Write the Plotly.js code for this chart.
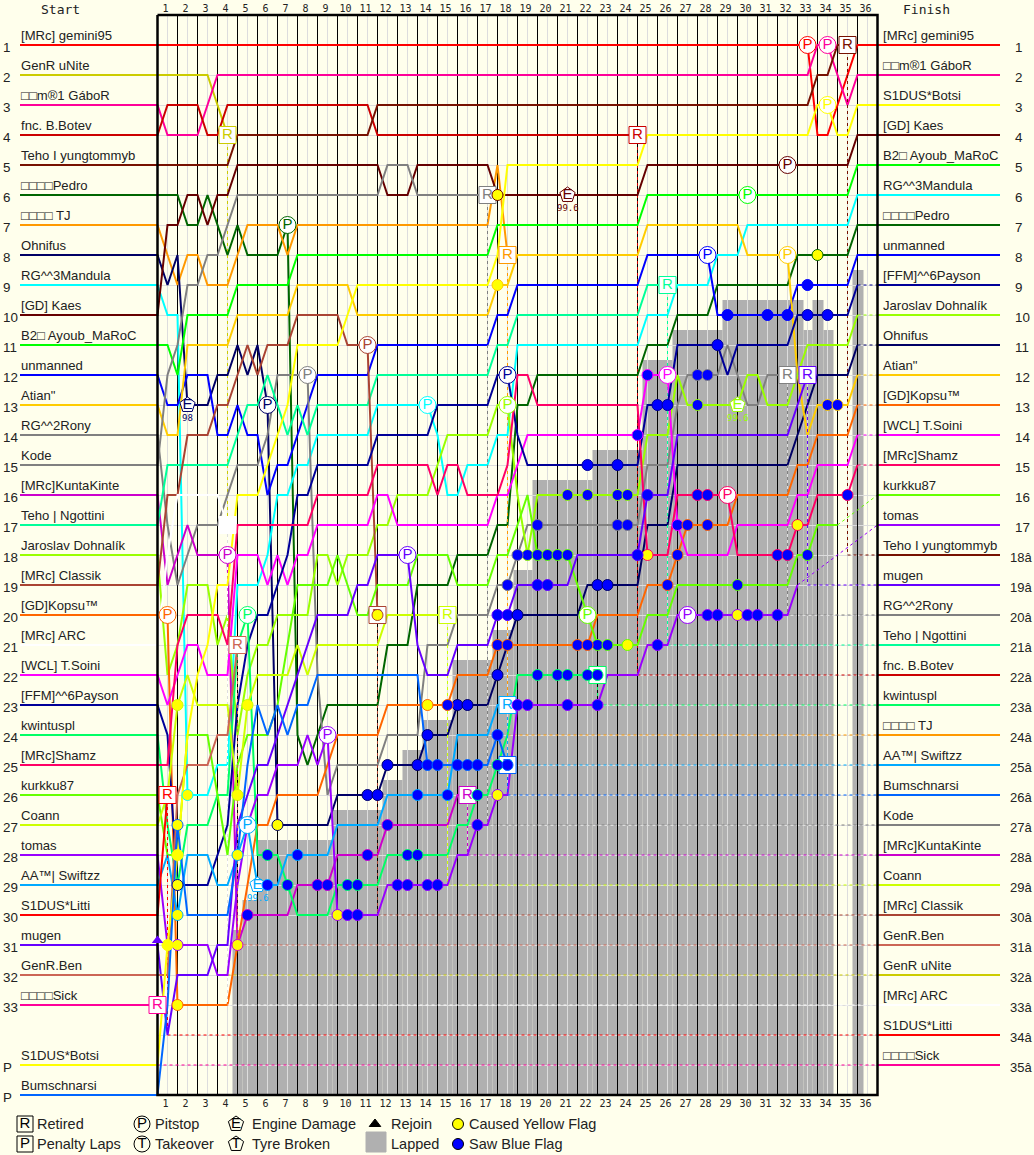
<!DOCTYPE html>
<html><head><meta charset="utf-8">
<script src="https://cdn.plot.ly/plotly-3.0.1.min.js"></script>
<style>html,body{margin:0;padding:0;background:#ffffec;overflow:hidden}</style>
</head><body><div id="chart" style="width:1034px;height:1155px"></div>
<script>
// h = half-lap index (lap = h/2), each pair is [h, position]; straight runs between listed pairs.
const drivers = ["gemini","uNite","GaboR","Botev","yung","Pedro","TJ","Ohnifus","Mandula","Kaes","Ayoub","unmanned","Atian","Rony","Kode","Kunta","Ngottini","Dohnalik","Classik","Kopsu","ARC","Soini","Payson","kwintuspl","Shamz","kurkku","Coann","tomas","Swiftzz","Litti","mugen","Ben","Sick","Botsi","Bum"];
const names = ["[MRc] gemini95","GenR uNite","□□m®1 GáboR","fnc. B.Botev","Teho I yungtommyb","□□□□Pedro","□□□□ TJ","Ohnifus","RG^^3Mandula","[GD] Kaes","B2□ Ayoub_MaRoC","unmanned","Atian\"","RG^^2Rony","Kode","[MRc]KuntaKinte","Teho | Ngottini","Jaroslav Dohnalík","[MRc] Classik","[GD]Kopsu™","[MRc] ARC","[WCL] T.Soini","[FFM]^^6Payson","kwintuspl","[MRc]Shamz","kurkku87","Coann","tomas","AA™| Swiftzz","S1DUS*Litti","mugen","GenR.Ben","□□□□Sick","S1DUS*Botsi","Bumschnarsi"];
const colors = ["#ff0000","#cccc00","#ff0099","#cc0000","#771100","#006600","#ff9900","#000066","#00ffff","#660000","#00ff00","#0000ff","#ffcc00","#808080","#808080","#cc00cc","#00ff99","#99ff00","#aa4433","#ff6600","#ffffff","#ff00ff","#000099","#00ff66","#ff0066","#66ff00","#ccff00","#9900ff","#00aaff","#ff0000","#6600ff","#cc6655","#ff0099","#ffff00","#0066ff"];
const startRows = [1,2,3,4,5,6,7,8,9,10,11,12,13,14,15,16,17,18,19,20,21,22,23,24,25,26,27,28,29,30,31,32,33,35,36];
const finishRows = [1,32,2,22,18,7,24,11,6,4,5,8,12,20,27,28,21,10,30,13,33,14,9,23,15,16,29,17,25,34,19,31,35,3,26];
const retired = ["uNite","Botev","yung","TJ","Kode","Rony","mugen","Ngottini","Kunta","Swiftzz","Bum","kwintuspl","Classik","Coann","Ben","ARC","Litti","Sick"];

const gemini = [[0,1],[65,1],[66,4],[67,4],[68,3],[69,2],[70,1]];
const uNite = [[0,2],[5,2],[6,3],[7,4]];
const GaboR = [[0,3],[1,4],[4,4],[5,3],[6,2],[65,2],[66,1],[67,1],[68,2],[69,3],[70,2]];
const Botev = [[0,4],[1,3],[4,3],[5,4],[6,4],[7,3],[21,3],[22,4],[48,4]];
const yung = [[0,5],[7,5],[8,4],[21,4],[22,3],[65,3],[66,2],[67,2],[68,1],[69,1]];
const Pedro = [[0,6],[2,6],[3,7],[4,7],[5,6],[6,7],[7,8],[8,7],[9,8],[12,8],[13,7],[14,24],[15,25],[16,24],[17,23],[22,23],[23,21],[25,21],[26,19],[29,19],[30,18],[33,18],[34,17],[35,17],[36,13],[37,13],[38,12],[48,12],[49,11],[51,11],[52,10],[55,10],[56,9],[63,9],[64,8],[69,8],[70,7]];
const TJ = [[0,7],[1,8],[2,9],[3,8],[4,8],[5,9],[7,9],[8,8],[9,7],[12,7],[13,8],[14,7],[33,7],[34,5],[35,8]];
const Ohnifus = [[0,8],[1,9],[2,8],[3,13],[5,13],[6,12],[7,12],[8,11],[9,12],[10,11],[11,13],[12,27],[17,27],[18,26],[22,26],[23,25],[26,25],[27,24],[29,24],[30,23],[33,23],[34,22],[35,21],[36,20],[42,20],[43,19],[48,19],[49,17],[51,17],[52,15],[63,15],[64,14],[65,13],[66,12],[69,12],[70,11]];
const Mandula = [[0,9],[1,10],[2,10],[3,26],[5,26],[6,25],[7,25],[8,19],[10,19],[11,18],[12,16],[13,16],[14,15],[15,15],[16,14],[21,14],[22,13],[27,13],[28,14],[29,16],[30,16],[31,15],[33,15],[34,14],[35,14],[36,11],[48,11],[49,10],[51,10],[52,9],[55,9],[56,8],[58,8],[59,7],[69,7],[70,6]];
const Kaes = [[0,10],[1,7],[2,7],[3,6],[4,6],[5,7],[6,6],[7,6],[8,5],[22,5],[23,6],[25,6],[26,5],[33,5],[34,6],[48,6],[49,5],[69,5],[70,4]];
const Ayoub = [[0,11],[1,11],[2,12],[3,10],[7,10],[8,9],[13,9],[14,8],[33,8],[34,7],[48,7],[49,6],[69,6],[70,5]];
const unmanned = [[0,12],[1,13],[2,13],[3,12],[5,12],[6,14],[7,14],[8,13],[9,14],[10,14],[11,16],[12,15],[13,15],[14,14],[15,13],[16,12],[21,12],[22,11],[33,11],[34,10],[35,10],[36,9],[48,9],[49,8],[55,8],[56,10],[63,10],[64,9],[69,9],[70,8]];
const Atian = [[0,13],[1,14],[2,14],[3,11],[7,11],[8,10],[13,10],[14,9],[19,9],[20,10],[33,10],[34,9],[35,9],[36,8],[48,8],[49,7],[58,7],[59,8],[63,8],[64,12],[65,14],[66,13],[69,13],[70,12]];
const Rony = [[0,14],[1,17],[2,19],[3,18],[4,17],[6,17],[7,16],[8,15],[10,15],[11,14],[12,12],[15,12],[16,22],[17,26],[18,25],[22,25],[23,24],[26,24],[27,21],[29,21],[30,20],[33,20],[34,19],[35,19],[36,18],[37,17],[48,17],[49,15],[51,15],[52,13],[53,12],[56,12],[57,11],[58,12],[59,13],[60,13],[61,12],[63,12]];
const Kode = [[0,15],[1,12],[2,11],[3,9],[4,9],[5,8],[6,8],[7,7],[8,6],[22,6],[23,5],[25,5],[26,6],[33,6]];
const Kunta = [[0,16],[1,19],[2,18],[3,17],[4,18],[6,18],[7,18],[8,31],[9,30],[13,30],[14,29],[17,29],[18,28],[22,28],[23,27],[29,27],[30,26],[31,26]];
const Ngottini = [[0,17],[1,15],[7,15],[8,14],[9,13],[10,13],[11,12],[12,13],[13,14],[14,13],[15,14],[16,13],[21,13],[22,12],[33,12],[34,11],[35,11],[36,10],[48,10],[49,9],[51,9]];
const Dohnalik = [[0,18],[1,22],[2,21],[3,19],[5,19],[6,21],[7,20],[8,24],[9,22],[10,21],[11,21],[12,20],[15,20],[16,18],[17,18],[18,19],[19,18],[21,18],[22,17],[23,17],[24,16],[27,16],[28,15],[29,14],[33,14],[34,13],[35,13],[36,16],[37,18],[38,16],[48,16],[49,14],[51,14],[52,12],[53,13],[58,13],[59,12],[60,12],[61,13],[63,13],[64,12],[65,11],[69,11],[70,10]];
const Classik = [[0,19],[1,16],[2,16],[3,14],[5,14],[6,13],[7,13],[8,12],[9,11],[10,12],[11,11],[13,11],[14,10],[18,10],[19,11],[21,11],[22,20]];
const Kopsu = [[0,20],[1,20],[2,33],[7,33],[8,31],[9,29],[10,27],[11,27],[12,26],[16,26],[17,25],[18,24],[22,24],[23,23],[29,23],[30,22],[33,22],[34,21],[43,21],[44,20],[48,20],[49,19],[51,19],[52,18],[53,17],[57,17],[58,16],[63,16],[64,15],[65,15],[66,14],[69,14],[70,13]];
const ARC = [[0,21],[1,18],[2,16],[6,16],[7,17]];
const Soini = [[0,22],[1,23],[2,22],[3,21],[4,21],[5,22],[7,22],[8,18],[10,18],[11,19],[12,18],[13,19],[14,18],[15,18],[16,17],[21,17],[22,16],[23,16],[24,17],[33,17],[34,16],[35,16],[36,15],[37,14],[48,14],[49,12],[51,12],[52,17],[53,18],[57,18],[58,17],[63,17],[64,16],[65,16],[66,15],[69,15],[70,14]];
const Payson = [[0,23],[1,24],[2,29],[5,29],[6,28],[7,27],[8,23],[9,21],[10,20],[11,20],[12,19],[13,18],[14,16],[15,16],[16,15],[21,15],[22,14],[27,14],[28,13],[33,13],[34,12],[35,12],[36,14],[37,15],[48,15],[49,13],[51,13],[52,11],[56,11],[57,12],[58,11],[63,11],[64,10],[69,10],[70,9]];
const kwintuspl = [[0,24],[1,27],[2,29],[3,27],[5,27],[6,26],[7,26],[8,21],[9,20],[10,28],[12,28],[13,29],[14,30],[17,30],[18,29],[22,29],[23,28],[29,28],[30,27],[31,27],[32,26],[33,26],[34,25],[35,24],[36,22],[44,22]];
const Shamz = [[0,25],[1,25],[2,21],[3,20],[6,20],[7,21],[8,17],[15,17],[16,16],[21,16],[22,15],[27,15],[28,16],[29,15],[30,15],[31,16],[34,16],[35,15],[36,12],[37,12],[38,13],[48,13],[49,18],[51,18],[52,16],[57,16],[58,18],[63,18],[64,17],[65,17],[66,16],[69,16],[70,15]];
const kurkku = [[0,26],[1,28],[2,28],[3,24],[5,24],[6,26],[7,28],[8,25],[9,24],[11,24],[12,23],[13,21],[14,19],[17,19],[18,18],[19,19],[20,20],[21,20],[22,19],[25,19],[26,18],[29,18],[30,19],[33,19],[34,18],[35,18],[36,17],[37,16],[38,18],[41,18],[42,19],[43,20],[44,21],[48,21],[49,20],[51,20],[52,19],[63,19],[64,18],[65,18],[66,17],[68,17]];
const Coann = [[0,27],[1,26],[2,23],[3,22],[4,23],[7,23],[8,26],[9,23],[10,22],[13,22],[14,21],[15,22],[16,21],[22,21],[23,20],[29,20]];
const tomas = [[0,28],[1,31],[2,31],[5,31],[6,32],[7,32],[8,29],[9,27],[10,26],[11,26],[12,25],[14,25],[15,24],[16,25],[17,24],[18,30],[22,30],[23,29],[29,29],[30,28],[31,28],[32,27],[33,27],[34,26],[35,26],[36,23],[44,23],[45,22],[48,22],[49,21],[51,21],[52,20],[63,20],[64,19]];
const Swiftzz = [[0,29],[1,28],[2,30],[3,28],[5,28],[6,29],[7,29],[8,28],[9,27],[10,29],[12,29],[13,28],[17,28],[18,27],[22,27],[23,26],[29,26],[30,24],[33,24],[34,23],[35,23]];
const Litti = [[0,30],[1,26]];
const mugen = [[0,31],[1,34],[2,32],[5,32],[6,31],[7,31],[8,27],[9,26],[10,25],[11,25],[12,24],[13,23],[14,22],[15,21],[16,20],[19,20],[20,19],[21,19],[22,18],[25,18],[26,21],[27,22],[29,22],[30,21],[33,21],[34,20],[35,20],[36,19],[41,19],[42,18],[48,18],[49,16],[51,16],[52,14],[63,14],[64,13],[65,12]];
const Ben = [[0,32],[1,32],[2,26],[3,25],[5,25],[6,24],[7,24],[8,21]];
const Sick = [[0,33]];
const Botsi = [[0,35],[1,31],[2,28],[3,24],[4,22],[5,21],[6,19],[7,19],[8,16],[10,16],[11,15],[12,14],[13,13],[14,11],[18,11],[19,10],[20,9],[33,9],[34,8],[35,5],[48,5],[49,4],[65,4],[66,3],[67,3],[68,4],[69,4],[70,3]];
const Bum = [[0,36],[1,33],[2,27],[3,30],[7,30],[8,28],[9,25],[10,23],[11,24],[12,23],[13,24],[14,23],[15,23],[16,22],[26,22],[27,25],[33,25],[34,24],[35,25]];
const paths = {gemini,uNite,GaboR,Botev,yung,Pedro,TJ,Ohnifus,Mandula,Kaes,Ayoub,unmanned,Atian,Rony,Kode,Kunta,Ngottini,Dohnalik,Classik,Kopsu,ARC,Soini,Payson,kwintuspl,Shamz,kurkku,Coann,tomas,Swiftzz,Litti,mugen,Ben,Sick,Botsi,Bum};

// events: [driver, h, position]
const pitstops = [["Kopsu",1,20],["tomas",17,24],["mugen",25,18],["Mandula",27,13],["Kunta",7,18],["kwintuspl",9,20],["Swiftzz",9,27],["Pedro",13,7],["Ohnifus",11,13],["Rony",15,12],["Classik",21,11],["Dohnalik",35,13],["Payson",35,12],["kurkku",43,20],["Soini",51,12],["Shamz",57,16],["tomas",53,20],["unmanned",55,8],["Ayoub",59,6],["Atian",63,8],["Kaes",63,5],["gemini",65,1],["GaboR",67,1],["Botsi",67,3]];
const engines = [["Ohnifus",3,13,"98"],["Swiftzz",10,29,"99.6"],["Kaes",41,6,"99.6"],["Dohnalik",58,13,"99.6"]];
const yellowFlags = [["Kopsu",2,33],["tomas",2,31],["Kunta",8,31],["Botsi",1,31],["Swiftzz",2,30],["Payson",2,29],["Botsi",2,28],["Bum",2,27],["Ohnifus",12,27],["Mandula",3,26],["Coann",8,26],["Swiftzz",8,28],["Coann",2,23],["Coann",9,23],["Classik",22,20],["Kopsu",27,23],["tomas",18,30],["tomas",34,26],["kurkku",47,21],["Shamz",49,18],["Shamz",64,17],["tomas",58,20],["Pedro",66,8],["Kaes",34,6],["Atian",34,9]];
const blueFlags = [["Payson",43,15],["Payson",46,15],["Payson",50,13],["Payson",51,13],["Payson",56,11],["Payson",65,10],["Payson",67,10],["Dohnalik",41,16],["Dohnalik",43,16],["Dohnalik",46,16],["Dohnalik",47,16],["Dohnalik",37,18],["Dohnalik",54,13],["Rony",38,17],["Rony",46,17],["Rony",47,17],["Rony",54,12],["Rony",55,12],["Rony",35,19],["Rony",36,18],["kurkku",38,18],["kurkku",39,18],["kurkku",40,18],["kurkku",41,18],["kurkku",44,21],["kurkku",45,21],["kurkku",58,19],["kurkku",65,18],["Soini",48,14],["Soini",49,12],["Soini",52,17],["mugen",48,18],["mugen",49,16],["mugen",38,19],["mugen",39,19],["mugen",34,20],["mugen",35,20],["Ohnifus",44,19],["Ohnifus",45,19],["Ohnifus",36,20],["Ohnifus",34,22],["Ohnifus",30,23],["Ohnifus",31,23],["Ohnifus",27,24],["Ohnifus",23,25],["Ohnifus",26,25],["Ohnifus",21,26],["Ohnifus",22,26],["Kopsu",34,21],["Kopsu",35,21],["Kopsu",42,21],["Kopsu",43,21],["Kopsu",29,23],["Kopsu",51,19],["Kopsu",52,18],["Kopsu",53,17],["Kopsu",55,17],["tomas",50,21],["tomas",36,23],["tomas",37,23],["tomas",41,23],["tomas",44,23],["tomas",32,27],["tomas",24,29],["tomas",25,29],["tomas",27,29],["tomas",28,29],["tomas",19,30],["tomas",20,30],["tomas",55,20],["tomas",56,20],["tomas",59,20],["tomas",60,20],["tomas",62,20],["kwintuspl",38,22],["kwintuspl",40,22],["kwintuspl",41,22],["kwintuspl",43,22],["kwintuspl",44,22],["kwintuspl",34,25],["kwintuspl",32,26],["kwintuspl",25,28],["kwintuspl",26,28],["kwintuspl",19,29],["kwintuspl",20,29],["kwintuspl",11,28],["kwintuspl",13,29],["Bum",34,24],["Bum",27,25],["Bum",28,25],["Bum",30,25],["Bum",31,25],["Bum",32,25],["Bum",35,25],["Swiftzz",26,26],["Swiftzz",29,26],["Swiftzz",14,28],["Swiftzz",11,29],["Kunta",23,27],["Kunta",21,28],["Kunta",16,29],["Kunta",17,29],["Kunta",9,30],["Shamz",54,16],["Shamz",55,16],["Shamz",62,18],["Shamz",63,18],["Shamz",69,16],["Atian",67,13],["Atian",68,13],["unmanned",57,10],["unmanned",61,10],["unmanned",63,10],["unmanned",65,9]];

// lapped area: left edge, right edge (laps), top position
const lappedLeft = [3.75,4.25,5,8.75,11.25,12.25,13.25,14.75,16.75,17.8,18.75,21.75,24.25,25.75,28.25,32.3,32.75,33.3,34.75];
const lappedRight = [4.25,5,8.75,11.25,12.25,13.25,14.75,16.75,17.8,18.75,21.75,24.25,25.75,28.25,32.3,32.75,33.3,33.8,35.3];
const lappedTop = [30.5,29.5,27.5,26.5,25.5,24.5,23.5,21.5,20.5,18.5,15.5,14.5,11.5,10.5,9.5,10.5,9.5,10.5,8.5];
const lapLabels = Array.from({length:36},(_,i)=>String(i+1));
const leftNumbers = ["1","2","3","4","5","6","7","8","9","10","11","12","13","14","15","16","17","18","19","20","21","22","23","24","25","26","27","28","29","30","31","32","33","P","P"];
const rightNumbers = ["1","2","3","4","5","6","7","8","9","10","11","12","13","14","15","16","17","18â","19â","20â","21â","22â","23â","24â","25â","26â","27â","28â","29â","30â","31â","32â","33â","34â","35â"];

const SANS = "Liberation Sans, Arial, sans-serif", MONO = "DejaVu Sans Mono, monospace";
const BG = "#ffffec";
const W = 1034, H = 1155;
const lx = px => (px-157.5)/20, ly = py => (py-15)/30;   // page pixel -> axis units, for the key and side text
const col = k => colors[drivers.indexOf(k)];
const traces = [];

traces.push({type:"bar", x:lappedLeft.map((l,i)=>(l+lappedRight[i])/2), width:lappedLeft.map((l,i)=>lappedRight[i]-l),
  y:lappedTop.map(t=>t-36), base:36, marker:{color:"#b0b0b0",line:{width:0}}, hoverinfo:"skip"});

function segs(list){const x=[],y=[];list.forEach(s=>{x.push(s[0],s[2],null);y.push(s[1],s[3],null);});return {x,y};}
const rowsAll = Array.from({length:36},(_,i)=>i+1);
const centres = lapLabels.map((_,i)=>i+0.5);
const edges = lapLabels.slice(1).map((_,i)=>i+1);
traces.push({...segs(rowsAll.map(r=>[0,r+1/60,36,r+1/60])),mode:"lines",line:{color:"#dddddd",width:1},hoverinfo:"skip"});
traces.push({...segs(centres.map(c=>[c,0,c,36])),mode:"lines",line:{color:"#dddddd",width:1},hoverinfo:"skip"});
traces.push({...segs(edges.map(c=>[c,0,c,36])),mode:"lines",line:{color:"#000000",width:1},hoverinfo:"skip"});
traces.push({x:[0],y:[0],xaxis:"x2",mode:"markers",marker:{opacity:0},hoverinfo:"skip"});

const boxes = {x:[],y:[],c:[]};
drivers.forEach((k,i)=>{
  const p = paths[k], last = p[p.length-1], f = finishRows[i], isRet = retired.includes(k);
  const solidEnd = !isRet && last[0]===70 && f<=8;
  const xs = [lx(20)].concat(p.map(a=>a[0]/2)), ys = [startRows[i]].concat(p.map(a=>a[1]));
  if(solidEnd){xs.push(36);ys.push(f);}
  traces.push({x:xs,y:ys,mode:"lines",line:{color:colors[i],width:2},hoverinfo:"skip"});
  if(!solidEnd){
    const dx = isRet?[last[0]/2,last[0]/2,36]:[last[0]/2,36], dy = isRet?[last[1],f,f]:[last[1],f];
    traces.push({x:dx,y:dy,mode:"lines",line:{color:colors[i],width:1,dash:"dot"},hoverinfo:"skip"});
  }
  traces.push({x:[36,lx(1000)],y:[f,f],mode:"lines",line:{color:colors[i],width:2},hoverinfo:"skip"});
  if(isRet){boxes.x.push(last[0]/2);boxes.y.push(last[1]);boxes.c.push(colors[i]);}
});
// frame of the race area
traces.push({x:[0,36,36,0,0],y:[0,0,36,36,0],mode:"lines",line:{color:"#000",width:2.5},hoverinfo:"skip"});

function textMarks(symbol,size,list,label){
  return {x:list.x,y:list.y,mode:"markers+text",text:list.x.map(()=>label),textposition:"middle center",
    textfont:{family:SANS,size:15,color:list.c},hoverinfo:"skip",
    marker:{symbol,size,color:"#ffffff",line:{color:list.c,width:1}}};
}
const evt = a => ({x:a.map(e=>e[1]/2),y:a.map(e=>e[2]),c:a.map(e=>col(e[0]))});
traces.push(textMarks("square",17,boxes,"R"));
traces.push(textMarks("circle",17,evt(pitstops),"P"));
traces.push(textMarks("pentagon",16,evt(engines),"E"));
const dots = (a,fill)=>{const e=evt(a);return {x:e.x,y:e.y,mode:"markers",hoverinfo:"skip",marker:{size:11,color:fill,line:{color:e.c,width:1}}};};
traces.push(dots(yellowFlags,"#ffff00"));
traces.push(dots(blueFlags,"#0000ff"));
traces.push({x:[0],y:[30.85],mode:"markers",marker:{symbol:"triangle-up",size:10,color:"#6600ff"},hoverinfo:"skip"});

const key = (px,py,symbol,size,label,fill,lc)=>({x:[lx(px)],y:[ly(py)],mode:label?"markers+text":"markers",text:[label],textposition:"middle center",
  textfont:{family:SANS,size:15,color:"#000"},hoverinfo:"skip",marker:{symbol,size,color:fill,line:{color:lc||"#000",width:1}}});
traces.push(key(25,1124,"square",16,"R",BG),key(25,1144,"square",16,"P",BG),
  key(142,1124,"circle",16,"P",BG),key(142,1144,"circle",16,"T",BG),
  key(236,1124,"pentagon",16,"E",BG),key(236,1144,"pentagon",16,"T",BG),
  key(375,1124,"triangle-up",10,"","#000"),key(376,1142,"square",20,"","#b0b0b0","#b0b0b0"),
  key(458,1124,"circle",11,"","#ffff00"),key(458,1144,"circle",11,"","#0000ff"));

const ann = [];
const T = (x,y,text,size,family,opts)=>Object.assign({xref:"x",yref:"y",x,y,text,showarrow:false,xanchor:"left",yanchor:"middle",align:"left",
  font:{size,family,color:"#222"},borderpad:0},opts||{});
drivers.forEach((k,i)=>{
  ann.push(T(lx(19.5),startRows[i],names[i],13.1,SANS,{yshift:10}));
  ann.push(T(lx(881.5),finishRows[i],names[i],13.1,SANS,{yshift:10}));
});
leftNumbers.forEach((t,i)=>ann.push(T(lx(2),startRows[i],t,13.4,SANS,{yshift:-2})));
rightNumbers.forEach((t,i)=>{
  // the longer labels sit flush with the right page edge so they are not cut off
  if(t.length>2) ann.push(T(lx(1033),i+1,t,13,SANS,{yshift:-2,xanchor:"right"}));
  else ann.push(T(lx(1014),i+1,t,13.4,SANS,{yshift:-2}));
});
engines.forEach(e=>ann.push(T(e[1]/2,e[2]+0.42,e[3],9,MONO,{xanchor:"center",font:{size:9,family:MONO,color:col(e[0])}})));
ann.push(T(lx(40),ly(9),"Start",13,MONO),T(lx(902),ly(9),"Finish",13,MONO));
[[36,1124,"Retired"],[36,1144,"Penalty Laps"],[154,1124,"Pitstop"],[154,1144,"Takeover"],[251,1124,"Engine Damage"],[251,1144,"Tyre Broken"],[390,1124,"Rejoin"],[390,1144,"Lapped"],[468,1124,"Caused Yellow Flag"],[468,1144,"Saw Blue Flag"]]
  .forEach(a=>ann.push(T(lx(a[0]-0.5),ly(a[1]),a[2],14.5,SANS)));

const xrange = [lx(0),lx(W)];
const xbase = {range:xrange,tickmode:"array",tickvals:centres.map(c=>c-0.1),ticktext:lapLabels,ticks:"",showgrid:false,zeroline:false,
  tickfont:{family:MONO,size:10,color:"#222"},showline:false,tickangle:0,fixedrange:true,anchor:"free"};
Plotly.newPlot("chart",traces,{
  width:W,height:H,showlegend:false,paper_bgcolor:BG,plot_bgcolor:BG,barmode:"overlay",hovermode:false,
  margin:{l:0,r:0,t:0,b:0,pad:0},
  xaxis:Object.assign({},xbase,{side:"bottom",position:(H-1096)/H}),
  xaxis2:Object.assign({},xbase,{side:"top",overlaying:"x",position:(H-14)/H}),
  yaxis:{range:[ly(H),ly(0)],showticklabels:false,ticks:"",showgrid:false,zeroline:false,showline:false,fixedrange:true},
  annotations:ann
},{displayModeBar:false,staticPlot:true});
</script></body></html>
